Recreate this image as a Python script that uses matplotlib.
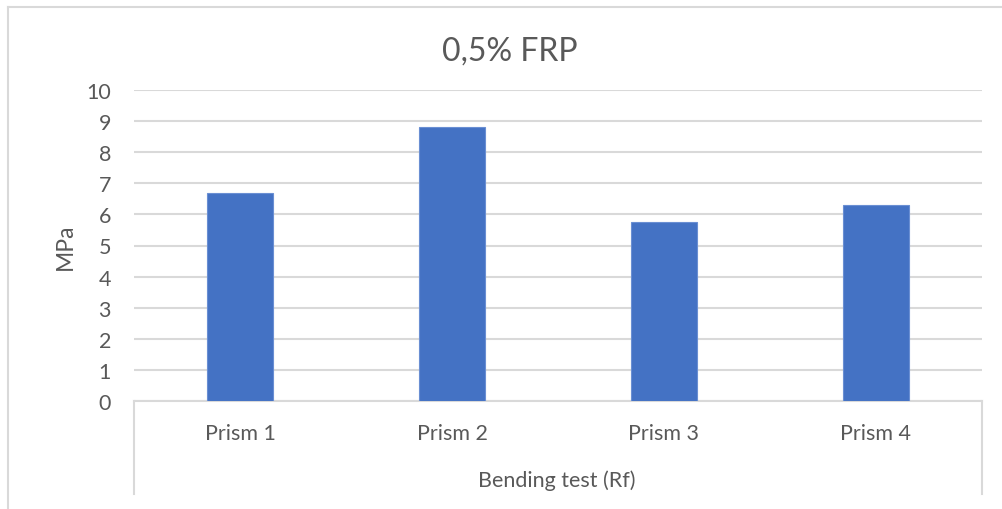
import matplotlib
matplotlib.use("Agg")
import matplotlib.pyplot as plt
from matplotlib.lines import Line2D

# Flexural strength results for 0.5% FRP prisms
categories = ["Prism 1", "Prism 2", "Prism 3", "Prism 4"]
values = [6.7, 8.8, 5.75, 6.3]
group_label = "Bending test (Rf)"
title = "0,5% FRP"
y_label = "MPa"
y_ticks = list(range(0, 11))

W, H = 1003, 510
fig = plt.figure(figsize=(W / 100, H / 100), dpi=100)
fig.patch.set_facecolor("white")
plt.rcParams["font.family"] = ["Lato", "DejaVu Sans"]

text_color = "#595959"
grid_color = "#D9D9D9"
bar_color = "#4472C4"
fs = 15.5

# Plot area in pixel terms
left, right, top, bottom = 134, 982, 91, 402
ax = fig.add_axes([left / W, (H - bottom) / H, (right - left) / W, (bottom - top) / H])

x = list(range(len(categories)))
ax.bar(x, values, width=0.31, color=bar_color, edgecolor="#6A8FD3", linewidth=0.8, zorder=3)
ax.set_xlim(-0.5, len(categories) - 0.5)
ax.set_ylim(0, 10)
ax.set_yticks(y_ticks)
ax.yaxis.grid(True, color=grid_color, linewidth=1.5, zorder=0)
ax.set_axisbelow(True)

for s in ["top", "right", "left"]:
    ax.spines[s].set_visible(False)
ax.spines["bottom"].set_color(grid_color)
ax.spines["bottom"].set_linewidth(1.5)

ax.set_xticks(x)
ax.set_xticklabels(categories, fontsize=fs, color=text_color)
ax.tick_params(axis="x", length=0, pad=16)
ax.tick_params(axis="y", length=0, pad=16.5, labelsize=fs, labelcolor=text_color)

# Group-level category box
depth = (bottom - 495) / (bottom - top)
for xa in (0, 1):
    ax.add_line(Line2D([xa, xa], [0, depth], transform=ax.transAxes,
                       color=grid_color, linewidth=1.5, clip_on=False))
ax.text(557 / W, 1 - 481 / H, group_label, transform=fig.transFigure,
        ha="center", va="center", fontsize=fs, color=text_color)

ax.set_ylabel(y_label, fontsize=fs + 1, color=text_color)
ax.yaxis.set_label_coords(-(left - 65) / (right - left), 0.5)
ax.yaxis.label.set_va("center")

fig.text(510 / W, 1 - 52 / H, title, ha="center", va="center", fontsize=23, color=text_color)

# Chart frame
fig.add_artist(Line2D([8 / W, 8 / W], [0, 1 - 8 / H], transform=fig.transFigure,
                      color=grid_color, linewidth=1.5))
fig.add_artist(Line2D([8 / W, 1], [1 - 8 / H, 1 - 8 / H], transform=fig.transFigure,
                      color=grid_color, linewidth=1.5))

fig.savefig("out.png", dpi=100)
